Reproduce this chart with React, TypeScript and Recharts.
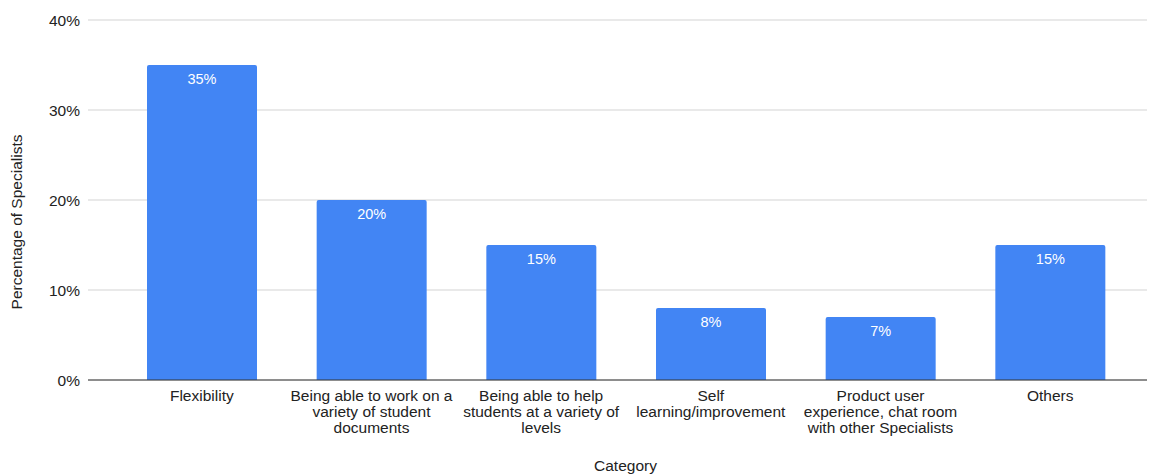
import React from 'react';
import { BarChart, Bar, XAxis, YAxis, CartesianGrid, LabelList } from 'recharts';

const categories = [
  'Flexibility',
  'Being able to work on a variety of student documents',
  'Being able to help students at a variety of levels',
  'Self learning/improvement',
  'Product user experience, chat room with other Specialists',
  'Others',
];

// how each category label breaks into lines under the axis
const tickLines: string[][] = [
  ['Flexibility'],
  ['Being able to work on a', 'variety of student', 'documents'],
  ['Being able to help', 'students at a variety of', 'levels'],
  ['Self', 'learning/improvement'],
  ['Product user', 'experience, chat room', 'with other Specialists'],
  ['Others'],
];

const percentages = [35, 20, 15, 8, 7, 15];
const yTicks = [0, 10, 20, 30, 40];

const data = categories.map((name, i) => ({ name, value: percentages[i] }));

const FONT = '"Liberation Sans", Arial, sans-serif';
const TEXT = '#222';

const CategoryTick = (props: any) => {
  const { x, y, index } = props;
  const lines = tickLines[index] || [String(props.payload.value)];
  return (
    <text x={x} y={y} textAnchor="middle" fill={TEXT} fontSize={15.5} fontFamily={FONT}>
      {lines.map((line, i) => (
        <tspan key={i} x={x} dy={i === 0 ? 13 : 16}>
          {line}
        </tspan>
      ))}
    </text>
  );
};

const YTitle = () => (
  <text
    x={22}
    y={222}
    transform="rotate(-90, 22, 222)"
    textAnchor="middle"
    fill={TEXT}
    fontSize={15.5}
    fontFamily={FONT}
  >
    Percentage of Specialists
  </text>
);

const App: React.FC = () => {
  return (
    <div style={{ position: 'absolute', left: 0, top: 0, width: 1153, height: 475, background: '#fff' }}>
      <BarChart
        width={1153}
        height={475}
        data={data}
        margin={{ top: 20, right: 6, bottom: 0, left: 0 }}
        barSize={110}
      >
        <CartesianGrid vertical={false} stroke="#d3d3d3" />
        <XAxis
          dataKey="name"
          height={95}
          interval={0}
          tickLine={false}
          axisLine={{ stroke: '#333' }}
          padding={{ left: 29, right: 12 }}
          tick={<CategoryTick />}
          label={{
            value: 'Category',
            position: 'insideBottom',
            offset: 4,
            dx: 8,
            fill: TEXT,
            fontSize: 15.5,
            fontFamily: FONT,
          }}
        />
        <YAxis
          width={88}
          domain={[0, 40]}
          ticks={yTicks}
          tickFormatter={(v: number) => `${v}%`}
          axisLine={false}
          tickLine={false}
          tick={{ fill: TEXT, fontSize: 15.5, fontFamily: FONT }}
          label={<YTitle />}
        />
        <Bar dataKey="value" fill="#4285F4" radius={[2, 2, 0, 0]} isAnimationActive={false}>
          <LabelList
            dataKey="value"
            position="insideTop"
            offset={9}
            formatter={(v: any) => `${v}%`}
            fill="#fff"
            fontSize={14.5}
            fontFamily={FONT}
          />
        </Bar>
      </BarChart>
    </div>
  );
};

export default App;
